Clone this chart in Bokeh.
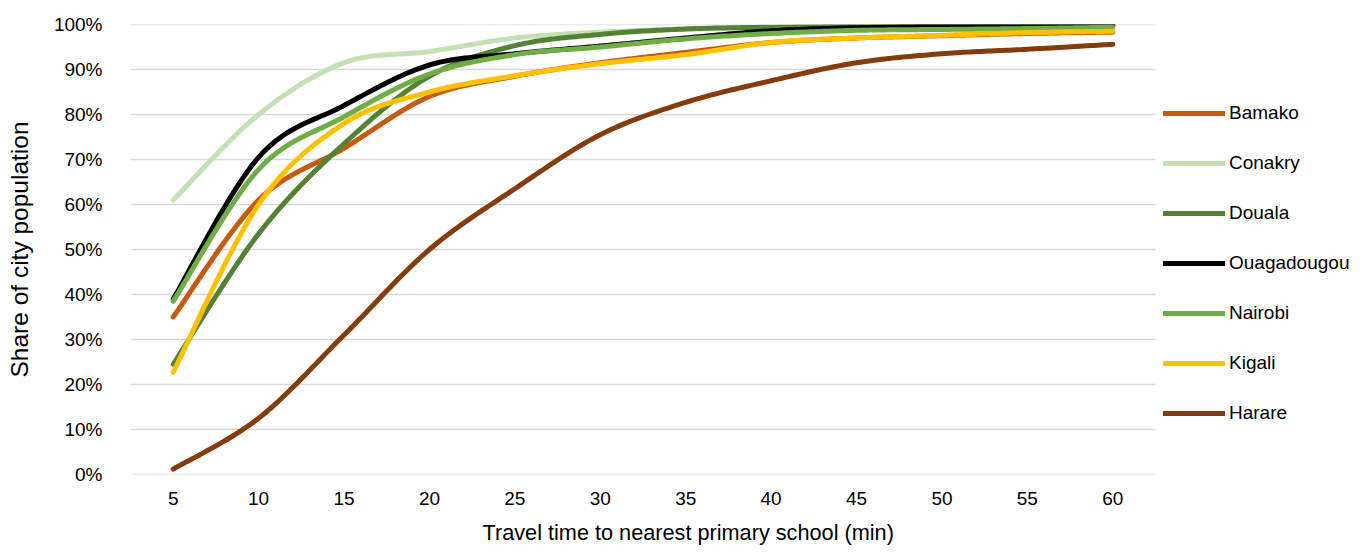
import numpy as np
from bokeh.plotting import figure
from bokeh.models import (Range1d, FixedTicker, NumeralTickFormatter, Legend,
                          LegendItem, ColumnDataSource, Title)
from bokeh.embed import file_html
from bokeh.resources import INLINE

# Travel time (minutes) and cumulative share of population (%) per city
minutes = [5, 10, 15, 20, 25, 30, 35, 40, 45, 50, 55, 60]
bamako = [35.0, 61.0, 72.5, 84.0, 88.5, 91.5, 93.8, 96.0, 97.0, 97.5, 98.0, 98.3]
conakry = [61.0, 80.0, 91.5, 94.0, 97.0, 98.3, 99.0, 99.3, 99.5, 99.6, 99.7, 99.7]
douala = [24.5, 53.5, 73.5, 88.5, 95.3, 97.8, 99.0, 99.4, 99.6, 99.8, 99.8, 99.8]
ouagadougou = [39.0, 70.5, 82.0, 91.0, 93.5, 95.2, 97.0, 98.6, 99.3, 99.6, 99.8, 99.8]
nairobi = [38.5, 67.8, 79.5, 89.0, 93.3, 95.0, 96.8, 98.0, 98.7, 98.9, 99.1, 99.4]
kigali = [22.7, 60.0, 78.0, 85.0, 88.6, 91.3, 93.3, 96.0, 97.0, 97.6, 98.2, 98.5]
harare = [1.2, 12.5, 31.0, 50.0, 63.5, 75.5, 82.7, 87.5, 91.5, 93.5, 94.5, 95.6]

y_ticks = [i / 10 for i in range(11)]

series = [
    ("Bamako", bamako, "#C55A11"),
    ("Conakry", conakry, "#C5E0B4"),
    ("Douala", douala, "#548235"),
    ("Ouagadougou", ouagadougou, "#000000"),
    ("Nairobi", nairobi, "#70AD47"),
    ("Kigali", kigali, "#FFC000"),
    ("Harare", harare, "#843C0C"),
]

FONT = "'Liberation Sans', Arial, sans-serif"

# category slots: each tick sits in the middle of a 5-minute slot
X_START = minutes[0] - 2.5
X_END = minutes[-1] + 2.5


def smooth(xs, ys, steps=24):
    """Catmull-Rom curve through the points (Bezier smoothing)."""
    xs = np.asarray(xs, float)
    ys = np.asarray(ys, float)
    px = np.concatenate([[xs[0]], xs, [xs[-1]]])
    py = np.concatenate([[ys[0]], ys, [ys[-1]]])
    out_x, out_y = [], []
    t = np.linspace(0, 1, steps, endpoint=False)
    for i in range(1, len(px) - 2):
        p0x, p1x, p2x, p3x = px[i - 1], px[i], px[i + 1], px[i + 2]
        p0y, p1y, p2y, p3y = py[i - 1], py[i], py[i + 1], py[i + 2]
        c1x, c1y = p1x + (p2x - p0x) / 6, p1y + (p2y - p0y) / 6
        c2x, c2y = p2x - (p3x - p1x) / 6, p2y - (p3y - p1y) / 6
        b0, b1, b2, b3 = (1 - t) ** 3, 3 * (1 - t) ** 2 * t, 3 * (1 - t) * t ** 2, t ** 3
        out_x.extend(b0 * p1x + b1 * c1x + b2 * c2x + b3 * p2x)
        out_y.extend(b0 * p1y + b1 * c1y + b2 * c2y + b3 * p2y)
    out_x.append(xs[-1])
    out_y.append(ys[-1])
    return np.array(out_x), np.array(out_y)


# plotting area 1025 px wide for the 60-minute span; the frame runs on to the
# right edge so the legend can sit beside the curves
LEFT = 130
W = 1363
span_px = 1025
x_right = X_START + (W - LEFT) * (X_END - X_START) / span_px

p = figure(width=W, height=555, output_backend="svg", toolbar_location=None,
           x_range=Range1d(X_START, x_right), y_range=Range1d(0, 1),
           min_border_left=LEFT, min_border_right=0, min_border_top=24,
           min_border_bottom=81)
p.outline_line_color = None
p.background_fill_color = "white"
p.border_fill_color = "white"

p.xgrid.grid_line_color = None
p.ygrid.grid_line_color = None

# horizontal gridlines limited to the plotting span
p.segment(x0=[X_START] * len(y_ticks), x1=[X_END] * len(y_ticks),
          y0=y_ticks, y1=y_ticks, line_color="#D9D9D9", line_width=1.5)

p.yaxis.ticker = FixedTicker(ticks=y_ticks)
p.yaxis.formatter = NumeralTickFormatter(format="0%")
p.xaxis.ticker = FixedTicker(ticks=minutes)

for ax in (p.xaxis, p.yaxis):
    ax.axis_line_color = None
    ax.major_tick_line_color = None
    ax.minor_tick_line_color = None
    ax.major_label_text_font = FONT
    ax.major_label_text_font_size = "19px"
    ax.major_label_text_color = "#000000"
    ax.axis_label_text_font = FONT
    ax.axis_label_text_font_style = "normal"
    ax.axis_label_text_color = "#000000"

p.yaxis.axis_label = "Share of city population"
p.yaxis.axis_label_text_font_size = "24.5px"
p.yaxis.major_label_standoff = 22
p.xaxis.major_label_standoff = 11
p.yaxis.axis_label_standoff = 18

# x-axis title centred under the plotting span rather than the whole frame
p.add_layout(Title(text="Travel time to nearest primary school (min)",
                   align="left", offset=352, standoff=21,
                   text_font=FONT, text_font_size="21.7px",
                   text_font_style="normal", text_color="#000000"), "below")

items = []
for name, vals, color in series:
    sx, sy = smooth(minutes, [v / 100 for v in vals])
    src = ColumnDataSource(dict(x=sx, y=sy))
    r = p.line("x", "y", source=src, line_color=color, line_width=5,
               line_cap="round", line_join="round")
    items.append(LegendItem(label=name, renderers=[r]))

legend = Legend(items=items, location=(1033, 50), orientation="vertical",
                glyph_width=62, glyph_height=20, label_height=20,
                label_standoff=4, spacing=28, padding=0, margin=0,
                border_line_color=None, background_fill_alpha=0,
                label_text_font=FONT, label_text_font_size="19px",
                label_text_color="#000000")
p.add_layout(legend, "center")

open("out.html", "w").write(file_html(p, INLINE))
